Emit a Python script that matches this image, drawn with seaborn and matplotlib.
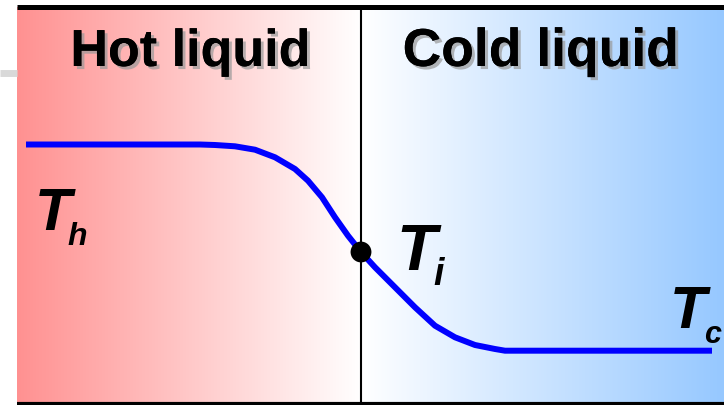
import numpy as np
import matplotlib
matplotlib.use("Agg")
import matplotlib.pyplot as plt
import matplotlib.patheffects as pe
import seaborn as sns

# temperature profile across the interface (picture units, y grows downward)
position = [26, 200, 215, 235, 255, 275, 295, 308, 322, 335, 348, 361,
            375, 395, 415, 435, 455, 475, 495, 505, 712]
temperature = [145.5, 145.5, 146, 147.3, 150.7, 158.3, 170, 181.7, 198.3, 218.3,
               236.7, 253, 268.3, 288.3, 308.3, 326.7, 338.3, 346, 350, 351.7, 351.7]

interface_x = [361]
interface_t = [253]

region_labels = ["Hot liquid", "Cold liquid"]

plt.rcParams['font.family'] = ['Liberation Sans', 'DejaVu Sans']

fig = plt.figure(figsize=(7.24, 4.06), dpi=100)
ax = fig.add_axes([0, 0, 1, 1])
ax.set_xlim(0, 724)
ax.set_ylim(406, 0)
ax.axis('off')

# background gradient red -> white -> blue
left_c = np.array([255, 145, 145]) / 255
mid_c = np.array([255, 255, 255]) / 255
right_c = np.array([150, 200, 255]) / 255
x0, xm, x1 = 17, 361, 724
xs = np.linspace(x0, x1, 800)
grad = np.zeros((1, len(xs), 3))
for k, xv in enumerate(xs):
    if xv <= xm:
        f = (xv - x0) / (xm - x0)
        grad[0, k] = left_c + (mid_c - left_c) * f
    else:
        f = (xv - xm) / (x1 - xm)
        grad[0, k] = mid_c + (right_c - mid_c) * f
ax.imshow(grad, extent=[x0, x1, 403, 8], aspect='auto', zorder=0)

# frame lines
ax.hlines(7.5, 17, 724, color='black', lw=3.6, zorder=2)
ax.hlines(404.8, 17, 724, color='black', lw=3.0, zorder=2)
ax.hlines(73.5, 0, 17, color='#d9d9d9', lw=5, zorder=1)
ax.vlines(361, 9, 403, color='black', lw=1.5, zorder=2)

# temperature curve and interface point
sns.lineplot(x=position, y=temperature, ax=ax, color='blue', lw=4.3,
             solid_capstyle='butt', solid_joinstyle='round', zorder=3)
sns.scatterplot(x=interface_x, y=interface_t, ax=ax, color='black', s=225,
                edgecolor='none', zorder=4)
ax.set_xlim(0, 724)
ax.set_ylim(406, 0)

shadow = [pe.withSimplePatchShadow(offset=(2.2, -2.2), shadow_rgbFace='#999999', alpha=0.7),
          pe.Normal()]
ax.text(190.5, 67, region_labels[0], fontsize=37.5, fontweight='bold', ha='center',
        va='baseline', path_effects=shadow, zorder=5)
ax.text(541, 67, region_labels[1], fontsize=38.5, fontweight='bold', ha='center',
        va='baseline', path_effects=shadow, zorder=5)

def tlabel(xc, yb, sub, sx, sy, size, subsize):
    ax.text(xc, yb, "T", fontsize=size, fontweight='bold', style='italic',
            ha='center', va='baseline', zorder=5)
    ax.text(sx, sy, sub, fontsize=subsize, fontweight='bold', style='italic',
            ha='center', va='baseline', zorder=5)

tlabel(53.5, 230, "h", 77, 245, 43, 23)
tlabel(416, 270, "i", 438.5, 285, 47, 27)
tlabel(688, 328, "c", 712.5, 342.7, 43, 22)

fig.savefig("out.png", dpi=100)
